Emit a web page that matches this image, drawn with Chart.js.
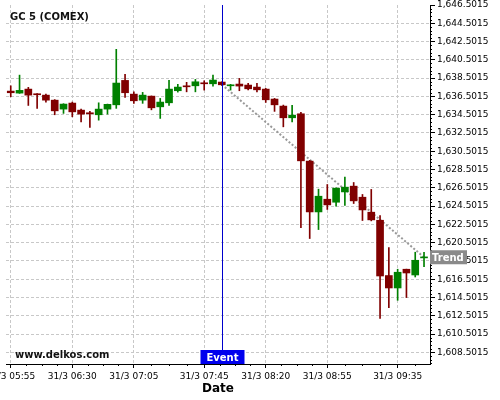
<html>
<head>
<script src="https://cdn.jsdelivr.net/npm/chart.js@4.4.1/dist/chart.umd.min.js"></script>
<style>body{margin:0;overflow:hidden;background:#fff}</style>
</head>
<body>
<canvas id="output" width="500" height="400"></canvas>
<script>
// GC 5 (COMEX), 5 minute candles on 31/3
var times = ['05:55','06:00','06:05','06:10','06:15','06:20','06:25','06:30','06:35','06:40','06:45','06:50',
             '06:55','07:00','07:05','07:10','07:15','07:20','07:25','07:30','07:35','07:40','07:45','07:50',
             '07:55','08:00','08:05','08:10','08:15','08:20','08:25','08:30','08:35','08:40','08:45','08:50',
             '08:55','09:00','09:05','09:10','09:15','09:20','09:25','09:30','09:35','09:40','09:45','09:50'];
var opens  = [1637.08,1636.86,1637.30,1636.79,1636.64,1636.09,1635.11,1635.77,1635.00,1634.71,1634.49,1635.11,
              1635.58,1638.25,1636.75,1636.09,1636.53,1635.36,1635.80,1637.12,1637.66,1637.66,1637.99,1637.88,
              1638.07,1637.66,1637.85,1637.74,1637.52,1637.30,1636.21,1635.44,1634.16,1634.60,1629.42,1623.86,
              1625.25,1624.92,1626.05,1626.68,1625.47,1623.83,1622.95,1616.90,1615.54,1617.59,1616.96,1618.83];
var highs  = [1637.66,1638.83,1637.49,1636.80,1636.75,1636.15,1635.70,1635.88,1635.11,1634.86,1635.80,1635.66,
              1641.65,1638.91,1637.00,1636.94,1636.55,1636.28,1638.25,1637.82,1638.04,1638.36,1638.21,1638.83,
              1638.10,1637.82,1638.47,1637.93,1637.93,1637.38,1636.28,1635.55,1635.51,1634.75,1629.50,1626.35,
              1626.86,1626.50,1627.66,1627.08,1625.77,1626.32,1623.47,1619.97,1617.59,1617.60,1619.45,1619.45];
var lows   = [1636.46,1636.83,1635.51,1635.19,1635.88,1634.49,1634.64,1634.27,1633.72,1633.10,1633.90,1634.56,
              1635.19,1636.39,1635.74,1635.74,1635.03,1634.09,1635.51,1636.97,1637.00,1637.00,1637.19,1637.63,
              1637.70,1637.19,1637.12,1637.22,1637.00,1635.84,1634.86,1633.17,1633.72,1622.15,1620.95,1621.93,
              1624.13,1624.50,1624.56,1624.78,1622.92,1622.88,1612.20,1613.39,1614.19,1614.49,1616.74,1617.88];
var closes = [1636.90,1637.16,1636.64,1636.68,1636.09,1634.92,1635.66,1634.81,1634.56,1634.60,1635.11,1635.63,
              1637.96,1636.90,1636.02,1636.64,1635.25,1635.88,1637.30,1637.52,1637.55,1638.10,1637.88,1638.29,
              1637.77,1637.77,1637.63,1637.33,1637.22,1636.13,1635.58,1634.16,1634.45,1629.45,1623.86,1625.58,
              1624.63,1626.46,1626.57,1625.07,1624.08,1622.99,1616.85,1615.54,1617.26,1617.18,1618.57,1618.90];

var xTickTimes = ['05:55','06:30','07:05','07:45','08:20','08:55','09:35'];
var yTicks = [1608.5015,1610.5015,1612.5015,1614.5015,1616.5015,1618.5015,1620.5015,1622.5015,1624.5015,1626.5015,
              1628.5015,1630.5015,1632.5015,1634.5015,1636.5015,1638.5015,1640.5015,1642.5015,1644.5015,1646.5015];
var eventTime = '07:55';
var trendTimes = ['07:55','09:50'];
var trendValues = [1637.8, 1618.9];

var FONT = 'DejaVu Sans';
var UP = '#008000', DOWN = '#800000';

function toMin(s) { var p = s.split(':'); return (+p[0]) * 60 + (+p[1]); }
function fmtTime(m) {
  var h = Math.floor(m / 60), mm = Math.round(m % 60);
  return (h < 10 ? '0' : '') + h + ':' + (mm < 10 ? '0' : '') + mm;
}

var colors = opens.map(function(o, i) { return closes[i] >= o ? UP : DOWN; });

// overlays: minor ticks, event line, labels
var overlay = {
  id: 'overlay',
  afterDraw: function(chart) {
    var c = chart.ctx, a = chart.chartArea, xs = chart.scales.x, ys = chart.scales.y;
    c.save();

    // minor ticks
    c.strokeStyle = '#000';
    c.lineWidth = 1;
    c.beginPath();
    var xm = xTickTimes.map(toMin);
    for (var i = 0; i < xm.length; i++) {
      var step = (i < xm.length - 1 ? xm[i + 1] - xm[i] : xm[i] - xm[i - 1]) / 4;
      for (var k = 1; k < 4; k++) {
        var v = xm[i] + step * k;
        if (v > xs.max) break;
        var px = Math.round(xs.getPixelForValue(v)) + 0.5;
        c.moveTo(px, a.bottom); c.lineTo(px, a.bottom + 2);
      }
    }
    for (var j = -5; j <= (yTicks.length - 1) * 5; j++) {
      if (j % 5 === 0) continue;
      var yv = yTicks[0] + j * 0.4;
      if (yv < ys.min || yv > ys.max) continue;
      var py = Math.round(ys.getPixelForValue(yv)) + 0.5;
      c.moveTo(a.right, py); c.lineTo(a.right + 2, py);
    }
    c.stroke();

    // event line
    var ex = Math.round(xs.getPixelForValue(toMin(eventTime))) + 0.5;
    c.strokeStyle = '#0000cc';
    c.beginPath(); c.moveTo(ex, a.top); c.lineTo(ex, a.bottom); c.stroke();

    // event label
    c.font = 'bold 10px ' + FONT;
    c.fillStyle = '#0000ee';
    c.fillRect(ex - 22, a.bottom - 14, 44, 14);
    c.fillStyle = '#fff';
    c.textAlign = 'center';
    c.textBaseline = 'alphabetic';
    c.fillText('Event', ex, a.bottom - 3.5);

    // trend label
    var ty = ys.getPixelForValue(trendValues[trendValues.length - 1]);
    c.fillStyle = '#8a8a8a';
    c.fillRect(a.right, ty - 7, 37, 14);
    c.fillStyle = '#fff';
    c.textAlign = 'left';
    c.fillText('Trend', a.right + 2, ty + 3.5);

    // title and watermark
    c.fillStyle = '#111';
    c.fillText('GC 5 (COMEX)', a.left + 4, a.top + 14.5);
    c.fillText('www.delkos.com', a.left + 9, a.bottom - 6.5);
    c.restore();
  }
};

var ctx = document.getElementById('output').getContext('2d');
var chart = new Chart(ctx, {
  type: 'bar',
  data: {
    datasets: [{
      label: 'body',
      data: times.map(function(t, i) { return { x: toMin(t), y: [opens[i], closes[i]] }; }),
      backgroundColor: colors,
      borderWidth: 0,
      barThickness: 7,
      minBarLength: 1,
      grouped: false
    }, {
      label: 'wick',
      data: times.map(function(t, i) { return { x: toMin(t), y: [lows[i], highs[i]] }; }),
      backgroundColor: colors,
      borderWidth: 0,
      barThickness: 1,
      grouped: false
    }, {
      type: 'line',
      label: 'Trend',
      data: trendTimes.map(function(t, i) { return { x: toMin(t), y: trendValues[i] }; }),
      borderColor: '#999',
      borderWidth: 2,
      borderDash: [2, 2],
      pointRadius: 0,
      fill: false
    }]
  },
  options: {
    responsive: false,
    animation: false,
    layout: { padding: { left: 6, top: 5, right: 0, bottom: 0 } },
    plugins: { legend: { display: false }, tooltip: { enabled: false } },
    scales: {
      x: {
        type: 'linear',
        min: 352.3,
        max: 593.4,
        offset: false,
        afterBuildTicks: function(s) { s.ticks = xTickTimes.map(function(t) { return { value: toMin(t) }; }); },
        afterFit: function(s) { s.height = 36; s.paddingLeft = 0; s.paddingRight = 0; },
        ticks: {
          autoSkip: false, maxRotation: 0, padding: 3, color: '#000',
          font: { family: FONT, size: 9 },
          callback: function(v) { return '31/3 ' + fmtTime(v); }
        },
        grid: { offset: false, color: '#c8c8c8', tickColor: '#000', tickLength: 4 },
        border: { display: true, color: '#000', width: 1, dash: [3, 2] },
        title: { display: true, text: 'Date', color: '#000', font: { family: FONT, size: 12, weight: 'bold' }, padding: { top: 0, bottom: 4 } }
      },
      y: {
        type: 'linear',
        position: 'right',
        min: 1607.22,
        max: 1646.5015,
        afterBuildTicks: function(s) { s.ticks = yTicks.map(function(v) { return { value: v }; }); },
        afterFit: function(s) { s.width = 70; s.paddingTop = 0; s.paddingBottom = 0; },
        ticks: {
          padding: 2, color: '#000',
          font: { family: FONT, size: 9 },
          callback: function(v) { return v.toLocaleString('en-US', { minimumFractionDigits: 4, maximumFractionDigits: 4 }); }
        },
        grid: {
          color: function(c) { return c.tick && c.tick.value >= 1646.5 ? 'rgba(0,0,0,0)' : '#c8c8c8'; },
          tickColor: '#000', tickLength: 5
        },
        border: { display: true, color: '#000', width: 1, dash: [3, 2] }
      }
    }
  },
  plugins: [overlay]
});
</script>
</body>
</html>
